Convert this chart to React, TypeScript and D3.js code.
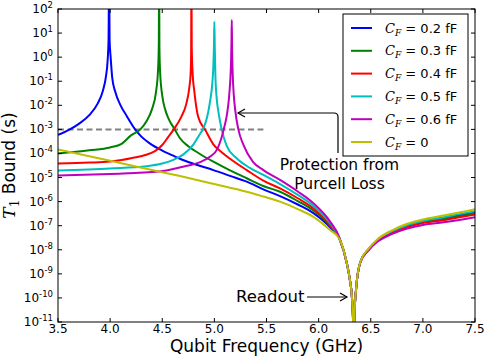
import * as d3 from "d3";

// T1 bound curves (frequency in GHz, log10 of T1 in s)
const freqBlue = [3.5, 3.6, 3.7, 3.8, 3.88, 3.93, 3.96, 3.975, 3.985, 3.99, 3.995, 4.005, 4.02, 4.05, 4.1, 4.16, 4.24, 4.3, 4.38, 4.5, 4.6, 4.67, 4.8, 4.99, 5.15, 5.31, 5.47, 5.63, 5.8, 5.95, 6.11, 6.2, 6.27, 6.3, 6.32, 6.33, 6.336, 6.342, 6.36, 6.4, 6.48, 6.56, 6.7, 6.85, 7.0, 7.2, 7.35, 7.5];
const logT1Blue = [-3.23, -3.03, -2.77, -2.41, -1.93, -1.41, -0.8, -0.2, 0.75, 3.5, 0.7, 0.0, -0.85, -1.45, -2.0, -2.45, -3.0, -3.3, -3.58, -3.88, -4.08, -4.22, -4.43, -4.69, -4.93, -5.17, -5.49, -5.77, -6.12, -6.48, -7.07, -7.55, -8.55, -9.25, -10.0, -10.9, -13, -10.9, -9.6, -8.51, -7.97, -7.62, -7.25, -6.99, -6.82, -6.68, -6.56, -6.44];

const freqGreen = [3.5, 3.8, 4.0, 4.11, 4.2, 4.29, 4.35, 4.4, 4.44, 4.46, 4.467, 4.47, 4.473, 4.48, 4.5, 4.53, 4.56, 4.62, 4.67, 4.75, 4.85, 4.99, 5.15, 5.31, 5.47, 5.63, 5.8, 5.95, 6.11, 6.2, 6.27, 6.3, 6.32, 6.33, 6.336, 6.342, 6.36, 6.4, 6.48, 6.56, 6.7, 6.85, 7.0, 7.2, 7.35, 7.5];
const logT1Green = [-4.0, -3.87, -3.75, -3.6, -3.25, -3.0, -2.65, -2.18, -1.45, -0.5, 0.55, 3.5, 0.4, -0.65, -1.6, -2.2, -2.55, -3.0, -3.37, -3.7, -3.99, -4.34, -4.7, -5.03, -5.35, -5.59, -5.98, -6.37, -7.01, -7.54, -8.55, -9.25, -10.0, -10.9, -13, -10.9, -9.6, -8.52, -7.98, -7.63, -7.28, -7.02, -6.86, -6.72, -6.61, -6.49];

const freqRed = [3.5, 3.8, 4.0, 4.2, 4.43, 4.5, 4.56, 4.61, 4.68, 4.73, 4.76, 4.772, 4.777, 4.78, 4.783, 4.79, 4.81, 4.846, 4.91, 4.99, 5.07, 5.16, 5.31, 5.47, 5.63, 5.8, 5.95, 6.11, 6.2, 6.27, 6.3, 6.32, 6.33, 6.336, 6.342, 6.36, 6.4, 6.48, 6.56, 6.7, 6.85, 7.0, 7.2, 7.35, 7.5];
const logT1Red = [-4.42, -4.38, -4.33, -4.2, -3.9, -3.65, -3.3, -3.0, -2.5, -1.95, -1.25, -0.7, 0.1, 3.5, 0.4, -0.55, -1.5, -2.5, -3.0, -3.62, -3.95, -4.25, -4.69, -5.13, -5.45, -5.86, -6.28, -6.97, -7.53, -8.55, -9.25, -10.0, -10.9, -13, -10.9, -9.6, -8.52, -7.99, -7.65, -7.3, -7.05, -6.89, -6.77, -6.65, -6.54];

const freqCyan = [3.5, 4.0, 4.35, 4.5, 4.6, 4.7, 4.8, 4.86, 4.89, 4.93, 4.96, 4.98, 4.99, 4.996, 5.0, 5.004, 5.01, 5.02, 5.04, 5.07, 5.118, 5.214, 5.34, 5.47, 5.63, 5.8, 5.95, 6.11, 6.2, 6.27, 6.3, 6.32, 6.33, 6.336, 6.342, 6.36, 6.4, 6.48, 6.56, 6.7, 6.85, 7.0, 7.2, 7.35, 7.5];
const logT1Cyan = [-4.71, -4.62, -4.53, -4.42, -4.28, -4.05, -3.62, -3.2, -3.0, -2.5, -1.8, -1.1, -0.4, 0.5, 1.47, 0.4, -0.8, -1.6, -2.3, -3.0, -3.68, -4.2, -4.6, -4.89, -5.27, -5.72, -6.18, -6.9, -7.52, -8.55, -9.25, -10.0, -10.9, -13, -10.9, -9.6, -8.51, -7.97, -7.6, -7.24, -6.97, -6.8, -6.65, -6.52, -6.4];

const freqMagenta = [3.5, 4.0, 4.47, 4.7, 4.85, 4.96, 5.03, 5.09, 5.12, 5.14, 5.152, 5.16, 5.164, 5.167, 5.17, 5.175, 5.185, 5.2, 5.23, 5.28, 5.37, 5.47, 5.63, 5.8, 5.95, 6.11, 6.2, 6.27, 6.3, 6.32, 6.33, 6.336, 6.342, 6.36, 6.4, 6.48, 6.56, 6.7, 6.85, 7.0, 7.2, 7.35, 7.5];
const logT1Magenta = [-4.92, -4.85, -4.75, -4.55, -4.38, -4.13, -3.8, -3.0, -2.4, -1.7, -1.0, -0.2, 0.6, 1.54, 0.3, -0.6, -1.5, -2.2, -3.0, -3.65, -4.35, -4.69, -5.1, -5.58, -6.07, -6.83, -7.5, -8.55, -9.25, -10.0, -10.9, -13, -10.9, -9.6, -8.53, -8.02, -7.68, -7.35, -7.12, -6.97, -6.86, -6.76, -6.65];

const freqYellow = [3.5, 4.0, 4.5, 4.67, 5.0, 5.31, 5.47, 5.63, 5.8, 5.95, 6.11, 6.2, 6.27, 6.3, 6.32, 6.33, 6.336, 6.342, 6.36, 6.4, 6.48, 6.56, 6.7, 6.85, 7.0, 7.2, 7.35, 7.5];
const logT1Yellow = [-3.83, -4.3, -4.78, -4.94, -5.27, -5.59, -5.79, -6.0, -6.31, -6.63, -7.18, -7.55, -8.55, -9.25, -10.0, -10.9, -13, -10.9, -9.6, -8.5, -7.95, -7.58, -7.2, -6.92, -6.74, -6.58, -6.45, -6.32];

const legendValues = ["0.2 fF", "0.3 fF", "0.4 fF", "0.5 fF", "0.6 fF", "0"];
const xTicks = [3.5, 4.0, 4.5, 5.0, 5.5, 6.0, 6.5, 7.0, 7.5];
const yExponents = [2, 1, 0, -1, -2, -3, -4, -5, -6, -7, -8, -9, -10, -11];
const protectionLevel = 1e-3;

const colors = ["#0000ff", "#008000", "#ff0000", "#00bfbf", "#bf00bf", "#bfbf00"];
const W = 485;
const H = 357;
const left = 58, right = 475, top = 9, bottom = 322;
const font = "DejaVu Sans, Bitstream Vera Sans, sans-serif";
const mathFont = "DejaVu Serif, serif";

export default function App() {
  const x = d3.scaleLinear().domain([3.5, 7.5]).range([left, right]);
  const y = d3.scaleLog().domain([1e-11, 1e2]).range([bottom, top]);

  const curves = [
    { f: freqBlue, t: logT1Blue },
    { f: freqGreen, t: logT1Green },
    { f: freqRed, t: logT1Red },
    { f: freqCyan, t: logT1Cyan },
    { f: freqMagenta, t: logT1Magenta },
    { f: freqYellow, t: logT1Yellow },
  ];

  const line = d3
    .line<[number, number]>()
    .x((d) => x(d[0]))
    .y((d) => y(Math.pow(10, d[1])))
    .curve(d3.curveMonotoneX);

  const yDash = y(protectionLevel);

  return (
    <svg width={W} height={H} style={{ position: "absolute", left: 0, top: 0, background: "#fff" }} fontFamily={font}>
      <defs>
        <clipPath id="plot-clip">
          <rect x={left} y={top} width={right - left} height={bottom - top} />
        </clipPath>
      </defs>

      <g clipPath="url(#plot-clip)">
        <line x1={x(3.5)} x2={x(5.47)} y1={yDash} y2={yDash} stroke="#808080" strokeWidth={2} strokeDasharray="6,3.5" />
        {curves.map((c, i) => (
          <path
            key={i}
            d={line(c.f.map((f, j) => [f, c.t[j]] as [number, number])) || ""}
            fill="none"
            stroke={colors[i]}
            strokeWidth={2}
          />
        ))}
      </g>

      {/* frame and inward ticks */}
      <rect x={left} y={top} width={right - left} height={bottom - top} fill="none" stroke="#000" strokeWidth={1} />
      {xTicks.map((t) => (
        <g key={t}>
          <line x1={x(t)} x2={x(t)} y1={bottom} y2={bottom - 4} stroke="#000" />
          <line x1={x(t)} x2={x(t)} y1={top} y2={top + 4} stroke="#000" />
          <text x={x(t)} y={333} textAnchor="middle" fontSize={12}>
            {t.toFixed(1)}
          </text>
        </g>
      ))}
      {yExponents.map((e) => (
        <g key={e}>
          <line x1={left} x2={left + 4} y1={y(Math.pow(10, e))} y2={y(Math.pow(10, e))} stroke="#000" />
          <line x1={right} x2={right - 4} y1={y(Math.pow(10, e))} y2={y(Math.pow(10, e))} stroke="#000" />
          <text x={53} y={y(Math.pow(10, e)) + 4} textAnchor="end" fontSize={12}>
            10
            <tspan dy={-5} fontSize={8.5}>
              {e}
            </tspan>
          </text>
        </g>
      ))}

      {/* axis titles */}
      <text x={(left + right) / 2} y={351.5} textAnchor="middle" fontSize={17}>
        Qubit Frequency (GHz)
      </text>
      <text transform={`translate(15,${(top + bottom) / 2}) rotate(-90)`} textAnchor="middle" fontSize={17}>
        <tspan fontFamily={mathFont} fontStyle="italic">T</tspan>
        <tspan fontFamily={mathFont} fontSize={12} dy={4}>1</tspan>
        <tspan dy={-4}> Bound (s)</tspan>
      </text>

      {/* annotations */}
      <path d="M338,153 L338,117 Q338,113 334,113 L238,113" fill="none" stroke="#000" strokeWidth={1.2} />
      <path d="M245,109 L238,113 L245,117" fill="none" stroke="#000" strokeWidth={1.2} />
      <text x={339.5} y={170.3} textAnchor="middle" fontSize={15.5}>Protection from</text>
      <text x={339.5} y={188.5} textAnchor="middle" fontSize={15.5}>Purcell Loss</text>

      <text x={236} y={302} fontSize={16.5}>Readout</text>
      <path d="M307,297 L347,297" fill="none" stroke="#000" strokeWidth={1.2} />
      <path d="M340,293 L347,297 L340,301" fill="none" stroke="#000" strokeWidth={1.2} />

      {/* legend */}
      <rect x={343} y={14} width={125} height={142} fill="#fff" stroke="#000" strokeWidth={1} />
      {legendValues.map((v, i) => {
        const ry = 28 + i * 22.8;
        return (
          <g key={v}>
            <line x1={351} x2={372} y1={ry} y2={ry} stroke={colors[i]} strokeWidth={2} />
            <text x={385} y={ry + 4.5} fontSize={13}>
              <tspan fontFamily={mathFont} fontStyle="italic">C</tspan>
              <tspan fontFamily={mathFont} fontStyle="italic" fontSize={9} dy={3}>F</tspan>
              <tspan dy={-3}>{" = " + v}</tspan>
            </text>
          </g>
        );
      })}
    </svg>
  );
}
